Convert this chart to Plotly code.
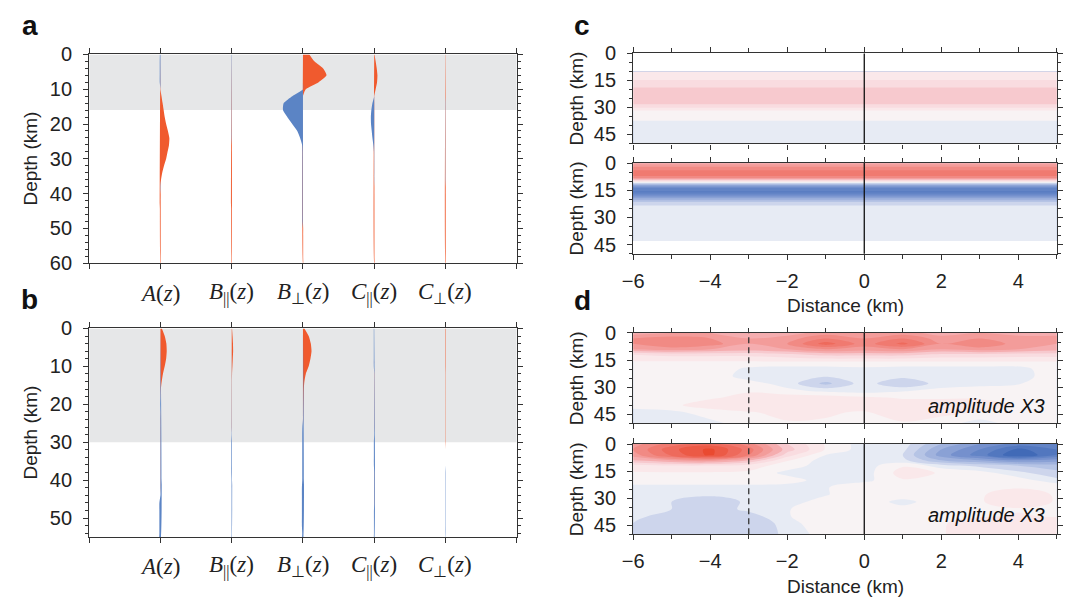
import plotly.graph_objects as go

W, H = 1068, 611

# ---------------- Panel a / b : depth profiles (amplitude, x units) ----------------
depth_a = list(range(0, 62, 2))          # 0..60 km
A_a   = [-0.008, -0.01, -0.01, -0.01, -0.01, 0.0, 0.015, 0.03, 0.045, 0.06, 0.08, 0.105, 0.125, 0.12, 0.1,
         0.08, 0.05, 0.025, 0.008, -0.004, 0.003] + [0.003] * 10
Bpar_a = [-0.004] * 13 + [0.003] * 18
Bperp_a = [0.09, 0.16, 0.28, 0.33, 0.22, 0.04, -0.15, -0.27, -0.28, -0.22, -0.15, -0.08, -0.04, -0.012] \
          + [-0.008] * 11 + [0.003] * 6
Cpar_a = [0.005, 0.02, 0.035, 0.045, 0.04, 0.02, 0.0, -0.025, -0.04, -0.047, -0.045, -0.035, -0.025, -0.012, -0.004] \
         + [-0.003] * 4 + [0.003] * 12
Cperp_a = [0.003] * 7 + [-0.003] * 12 + [0.003] * 12

depth_b = list(range(0, 58, 2))          # 0..56 km
A_b = [0.02, 0.06, 0.083, 0.088, 0.08, 0.06, 0.035, 0.018, 0.006, 0.003, -0.003, 0.002] + [0.004] * 10 + [0.0] + [-0.015] * 6
Bpar_b = [0.005, 0.012, 0.018, 0.02, 0.015, 0.01, 0.005] + [0.003] * 7 + [0.0] + [-0.005] * 5 + [-0.002] * 9
Bperp_b = [0.02, 0.08, 0.11, 0.12, 0.105, 0.08, 0.04, 0.02, 0.012, 0.01, 0.008, 0.006, 0.004, -0.008] \
          + [-0.01] * 7 + [-0.015] * 6 + [-0.01] * 2
Cpar_b = [-0.006] * 6 + [0.003] * 8 + [0.0] + [-0.005] * 4 + [0.004] * 5 + [-0.004] * 5
Cperp_b = [0.006] * 6 + [0.004] * 10 + [0.0] * 3 + [-0.005] * 9 + [0.0]

func_labels = ["<i>A</i>(<i>z</i>)", "<i>B</i><sub>||</sub>(<i>z</i>)", "<i>B</i><sub>⊥</sub>(<i>z</i>)",
               "<i>C</i><sub>||</sub>(<i>z</i>)", "<i>C</i><sub>⊥</sub>(<i>z</i>)"]
shade_a = 16
shade_b = 30

# ---------------- Panel c / d : sections ----------------
dist_km = [-6, -5, -4, -3, -2, -1, 0, 1, 2, 3, 4, 5]

c1_depth = list(range(10, 52, 2))
c1_profile = [0.1, 0.1, 0.12, 0.2, 0.2, 0.3, 0.3, 0.3, 0.3, 0.26, 0.16, 0.03, 0.03, 0.03, -0.08, -0.12] + [-0.12] * 5

c2_depth = list(range(0, 44, 2)) + [43]
c2_profile = [0.4, 0.55, 0.65, 0.72, 0.6, 0.15, -0.4, -0.7, -0.76, -0.6, -0.4, -0.2, -0.13] + [-0.12] * 10

d_depth = [0, 3, 6, 9, 12, 16, 20, 24, 28, 32, 36, 40, 44, 50]
d1_grid = [
    [0.4, 0.45, 0.45, 0.35, 0.4, 0.5, 0.45, 0.5, 0.4, 0.45, 0.4, 0.4],
    [0.55, 0.6, 0.55, 0.45, 0.5, 0.65, 0.55, 0.65, 0.5, 0.55, 0.5, 0.5],
    [0.55, 0.65, 0.6, 0.45, 0.55, 0.8, 0.6, 0.78, 0.55, 0.65, 0.5, 0.45],
    [0.45, 0.5, 0.45, 0.4, 0.45, 0.55, 0.5, 0.55, 0.45, 0.5, 0.45, 0.4],
    [0.15, 0.18, 0.18, 0.18, 0.22, 0.28, 0.28, 0.28, 0.22, 0.22, 0.2, 0.2],
    [0.04, 0.04, 0.04, 0.04, 0.04, 0.04, 0.04, 0.04, 0.04, 0.04, 0.04, 0.04],
    [0.04, 0.04, 0.04, -0.08, -0.1, -0.1, -0.08, -0.1, -0.1, -0.1, -0.1, 0.04],
    [0.04, 0.04, 0.02, -0.1, -0.12, -0.14, -0.12, -0.12, -0.12, -0.12, -0.1, 0.02],
    [0.04, 0.04, 0.04, 0.0, -0.1, -0.28, -0.1, -0.25, -0.1, -0.1, -0.06, 0.03],
    [0.04, 0.04, 0.04, 0.04, -0.02, -0.08, -0.1, -0.06, -0.02, 0.03, 0.04, 0.04],
    [0.04, 0.04, 0.04, 0.08, 0.12, 0.12, 0.08, 0.04, 0.04, 0.04, 0.04, 0.04],
    [0.0, 0.03, 0.1, 0.14, 0.14, 0.13, 0.1, 0.12, 0.12, 0.1, 0.04, 0.04],
    [-0.1, -0.08, 0.0, 0.04, 0.08, 0.06, 0.04, 0.1, 0.08, 0.04, 0.04, 0.04],
    [-0.1, -0.1, -0.08, 0.0, 0.04, 0.04, 0.04, 0.04, 0.0, -0.1, 0.0, 0.04],
]
d2_grid = [
    [0.5, 0.7, 0.8, 0.6, 0.25, 0.04, -0.1, -0.1, -0.35, -0.55, -0.7, -0.65],
    [0.55, 0.82, 0.98, 0.7, 0.3, 0.04, -0.1, -0.12, -0.45, -0.65, -0.88, -0.75],
    [0.5, 0.78, 0.98, 0.65, 0.2, -0.05, -0.1, -0.15, -0.5, -0.7, -0.95, -0.75],
    [0.35, 0.45, 0.5, 0.35, 0.06, -0.1, -0.1, -0.12, -0.35, -0.45, -0.55, -0.5],
    [0.1, 0.14, 0.14, 0.1, 0.0, -0.1, -0.1, 0.04, -0.1, -0.18, -0.25, -0.3],
    [0.04, 0.04, 0.04, 0.03, -0.08, -0.1, -0.1, 0.1, 0.04, 0.0, -0.12, -0.22],
    [0.04, 0.04, 0.04, 0.04, 0.0, -0.1, -0.08, 0.04, 0.04, 0.04, 0.0, -0.12],
    [-0.1, -0.1, -0.1, -0.1, -0.1, -0.06, 0.04, 0.04, 0.04, 0.04, 0.04, 0.04],
    [-0.12, -0.12, -0.12, -0.1, -0.1, -0.06, 0.04, 0.04, 0.04, 0.04, 0.1, 0.04],
    [-0.12, -0.15, -0.25, -0.12, -0.1, 0.0, 0.04, -0.1, 0.04, 0.04, 0.12, 0.04],
    [-0.12, -0.15, -0.22, -0.12, -0.06, 0.04, 0.04, 0.0, 0.04, 0.04, 0.04, 0.04],
    [-0.12, -0.2, -0.25, -0.2, -0.06, 0.04, 0.04, 0.04, 0.04, 0.04, 0.06, 0.04],
    [-0.15, -0.25, -0.25, -0.25, -0.1, 0.04, 0.04, 0.04, 0.04, 0.1, 0.12, 0.12],
    [-0.15, -0.25, -0.25, -0.25, -0.12, 0.0, 0.04, 0.04, 0.04, 0.12, 0.14, 0.12],
]
dashed_x = -3

# ---------------- styling ----------------
RED = "#F05A2E"
BLUE = "#5B84C5"
AX = "#333333"
SANS = "Liberation Sans, Arial, sans-serif"
SERIF = "Liberation Serif, Times New Roman, serif"
cscale = [[0.0, "#2F5DAF"], [0.1, "#5277BF"], [0.2, "#7590CD"], [0.3, "#A0B2DD"], [0.4, "#CDD5EC"],
          [0.45, "#E7EBF4"], [0.5, "#F8F3F4"], [0.55, "#FAE8EA"], [0.6, "#F9DCE0"], [0.65, "#F7C9CE"],
          [0.7, "#F5ADAF"], [0.8, "#F18A84"], [0.9, "#EE6A5C"], [1.0, "#EA4A30"]]


def fx(px):
    return px / W


def fy(py):
    return 1 - py / H


fig = go.Figure()


def add_wiggles(depth, series, xa, ya):
    for j, vals in enumerate(series):
        cx = j + 1
        for sign, col in ((1, RED), (-1, BLUE)):
            part = [max(v, 0) if sign > 0 else min(v, 0) for v in vals]
            xs = [cx + v for v in part] + [cx, cx]
            ys = list(depth) + [depth[-1], depth[0]]
            fig.add_trace(go.Scatter(x=xs, y=ys, xaxis=xa, yaxis=ya, mode="lines", fill="toself",
                                     fillcolor=col, line=dict(width=0, shape="spline", smoothing=0.6),
                                     hoverinfo="skip", showlegend=False))


add_wiggles(depth_a, [A_a, Bpar_a, Bperp_a, Cpar_a, Cperp_a], "x", "y")
add_wiggles(depth_b, [A_b, Bpar_b, Bperp_b, Cpar_b, Cperp_b], "x2", "y2")


def add_section(z, depth, xa, ya):
    fig.add_trace(go.Contour(x=dist_km, y=depth, z=z, xaxis=xa, yaxis=ya, colorscale=cscale,
                             zmin=-1, zmax=1, zauto=False, showscale=False, hoverinfo="skip",
                             contours=dict(coloring="fill", start=-0.95, end=0.95, size=0.1, showlines=False),
                             line=dict(width=0, smoothing=1.0)))


add_section([[v] * len(dist_km) for v in c1_profile], c1_depth, "x3", "y3")
add_section([[v] * len(dist_km) for v in c2_profile], c2_depth, "x4", "y4")
add_section(d1_grid, d_depth, "x5", "y5")
add_section(d2_grid, d_depth, "x6", "y6")

common = dict(showline=True, linecolor=AX, linewidth=1.3, mirror="ticks", ticks="outside", ticklen=5,
              tickwidth=1.2, tickcolor=AX, showgrid=False, zeroline=False,
              tickfont=dict(family=SANS, size=20, color="#222"))

boxes = {
    "": ((79, 511), (45, 261.7)),
    "2": ((79, 511), (329.3, 545.7)),
    "3": ((628.7, 1056.7), (44, 137.3)),
    "4": ((628.7, 1056.7), (157.7, 251.7)),
    "5": ((628.7, 1056.7), (334, 427.7)),
    "6": ((628.7, 1056.7), (449.3, 542.7)),
}
lay = {}
for k, ((x0, x1), (y0, y1)) in boxes.items():
    xd = [fx(x0), fx(x1)]
    yd = [fy(y1), fy(y0)]
    if k in ("", "2"):
        lay["xaxis" + k] = dict(common, domain=xd, anchor="y" + k, range=[0, 6], tickvals=list(range(7)),
                                showticklabels=False)
        ymax = 60 if k == "" else 55
        lay["yaxis" + k] = dict(common, domain=yd, anchor="x" + k, range=[ymax, 0],
                                tickvals=list(range(0, ymax + 1, 10)), ticklabelstandoff=7,
                                minor=dict(ticks="outside", ticklen=3, dtick=2, tick0=0, tickcolor=AX, tickwidth=1))
    else:
        lay["xaxis" + k] = dict(common, domain=xd, anchor="y" + k, range=[-6, 5], tickvals=[-6, -4, -2, 0, 2, 4],
                                showticklabels=k in ("4", "6"), ticklabelstandoff=4,
                                minor=dict(ticks="outside", ticklen=4, dtick=1, tick0=0, tickcolor=AX, tickwidth=1))
        lay["yaxis" + k] = dict(common, domain=yd, anchor="x" + k, range=[50, 0], tickvals=[0, 15, 30, 45],
                                ticklabelstandoff=7,
                                minor=dict(ticks="outside", ticklen=3, dtick=5, tick0=0, tickcolor=AX, tickwidth=1))

shapes = [
    dict(type="rect", xref="x", yref="y", x0=0, x1=6, y0=0, y1=shade_a, fillcolor="#E6E7E8",
         line=dict(width=0), layer="below"),
    dict(type="rect", xref="x2", yref="y2", x0=0, x1=6, y0=0, y1=shade_b, fillcolor="#E6E7E8",
         line=dict(width=0), layer="below"),
]
for k in ("3", "4", "5", "6"):
    shapes.append(dict(type="line", xref="x" + k, yref="y%s domain" % k, x0=0, x1=0, y0=0, y1=1,
                       line=dict(color="#111", width=1.3)))
for k in ("5", "6"):
    shapes.append(dict(type="line", xref="x" + k, yref="y%s domain" % k, x0=dashed_x, x1=dashed_x, y0=0, y1=1,
                       line=dict(color="#333", width=1.3, dash="6px,4px")))

ann = []


def note(text, px, py, size, family=SANS, angle=0, xanchor="center", color="#222"):
    ann.append(dict(text=text, x=fx(px), y=fy(py), xref="paper", yref="paper", xanchor=xanchor,
                    yanchor="middle", textangle=angle, showarrow=False,
                    font=dict(family=family, size=size, color=color)))


for letter, px, py in (("a", 19, 15), ("b", 19, 299), ("c", 577, 15), ("d", 577, 300)):
    note("<b>%s</b>" % letter, px, py, 28, color="#111")
for px, py in ((20, 153.3), (20, 437.5), (571, 90.7), (571, 204.7), (571, 380.9), (571, 496)):
    note("Depth (km)", px, py, 19, angle=-90)
for py in (305, 597):
    note("Distance (km)", 843, py, 19)
for xa, py in (("x", 293), ("x2", 576)):
    for i, lab in enumerate(func_labels):
        ann.append(dict(text=lab, x=i + 1, y=fy(py), xref=xa, yref="paper", xanchor="center",
                        yanchor="middle", showarrow=False, font=dict(family=SERIF, size=23, color="#222")))
for py in (410, 523):
    note("<i>amplitude X3</i>", 1047, py, 20, xanchor="right", color="#111")

fig.update_layout(width=W, height=H, margin=dict(l=0, r=0, t=0, b=0), paper_bgcolor="white",
                  plot_bgcolor="white", showlegend=False, shapes=shapes, annotations=ann, **lay)

fig.write_html("out.html")
